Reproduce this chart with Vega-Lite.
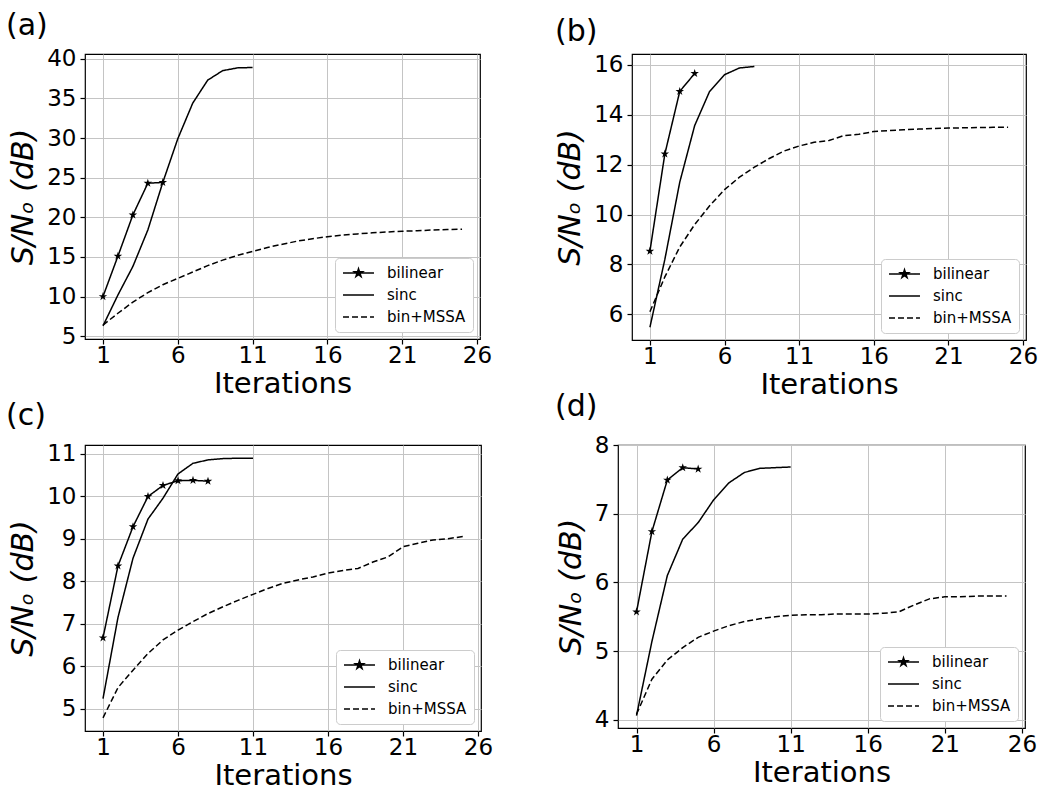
{
  "$schema": "https://vega.github.io/schema/vega-lite/v6.json",
  "background": "white",
  "padding": {"left": 5, "top": 10, "right": 5, "bottom": 0},
  "datasets": {
    "d": [
      {"panel": "a", "series": "bilinear", "x": 1, "y": 10.0},
      {"panel": "a", "series": "bilinear", "x": 2, "y": 15.1},
      {"panel": "a", "series": "bilinear", "x": 3, "y": 20.3},
      {"panel": "a", "series": "bilinear", "x": 4, "y": 24.3},
      {"panel": "a", "series": "bilinear", "x": 5, "y": 24.4},
      {"panel": "a", "series": "sinc", "x": 1, "y": 6.3},
      {"panel": "a", "series": "sinc", "x": 2, "y": 10.2},
      {"panel": "a", "series": "sinc", "x": 3, "y": 13.8},
      {"panel": "a", "series": "sinc", "x": 4, "y": 18.4},
      {"panel": "a", "series": "sinc", "x": 5, "y": 24.4},
      {"panel": "a", "series": "sinc", "x": 6, "y": 29.9},
      {"panel": "a", "series": "sinc", "x": 7, "y": 34.4},
      {"panel": "a", "series": "sinc", "x": 8, "y": 37.3},
      {"panel": "a", "series": "sinc", "x": 9, "y": 38.5},
      {"panel": "a", "series": "sinc", "x": 10, "y": 38.85},
      {"panel": "a", "series": "sinc", "x": 11, "y": 38.9},
      {"panel": "a", "series": "bin+MSSA", "x": 1, "y": 6.4},
      {"panel": "a", "series": "bin+MSSA", "x": 2, "y": 7.9},
      {"panel": "a", "series": "bin+MSSA", "x": 3, "y": 9.3},
      {"panel": "a", "series": "bin+MSSA", "x": 4, "y": 10.5},
      {"panel": "a", "series": "bin+MSSA", "x": 5, "y": 11.5},
      {"panel": "a", "series": "bin+MSSA", "x": 6, "y": 12.3},
      {"panel": "a", "series": "bin+MSSA", "x": 7, "y": 13.1},
      {"panel": "a", "series": "bin+MSSA", "x": 8, "y": 13.9},
      {"panel": "a", "series": "bin+MSSA", "x": 9, "y": 14.6},
      {"panel": "a", "series": "bin+MSSA", "x": 10, "y": 15.2},
      {"panel": "a", "series": "bin+MSSA", "x": 11, "y": 15.7},
      {"panel": "a", "series": "bin+MSSA", "x": 12, "y": 16.2},
      {"panel": "a", "series": "bin+MSSA", "x": 13, "y": 16.6},
      {"panel": "a", "series": "bin+MSSA", "x": 14, "y": 17.0},
      {"panel": "a", "series": "bin+MSSA", "x": 15, "y": 17.3},
      {"panel": "a", "series": "bin+MSSA", "x": 16, "y": 17.55},
      {"panel": "a", "series": "bin+MSSA", "x": 17, "y": 17.75},
      {"panel": "a", "series": "bin+MSSA", "x": 18, "y": 17.9},
      {"panel": "a", "series": "bin+MSSA", "x": 19, "y": 18.05},
      {"panel": "a", "series": "bin+MSSA", "x": 20, "y": 18.15},
      {"panel": "a", "series": "bin+MSSA", "x": 21, "y": 18.25},
      {"panel": "a", "series": "bin+MSSA", "x": 22, "y": 18.3},
      {"panel": "a", "series": "bin+MSSA", "x": 23, "y": 18.4},
      {"panel": "a", "series": "bin+MSSA", "x": 24, "y": 18.45},
      {"panel": "a", "series": "bin+MSSA", "x": 25, "y": 18.5},
      {"panel": "b", "series": "bilinear", "x": 1, "y": 8.53},
      {"panel": "b", "series": "bilinear", "x": 2, "y": 12.43},
      {"panel": "b", "series": "bilinear", "x": 3, "y": 14.94},
      {"panel": "b", "series": "bilinear", "x": 4, "y": 15.66},
      {"panel": "b", "series": "sinc", "x": 1, "y": 5.48},
      {"panel": "b", "series": "sinc", "x": 2, "y": 8.2},
      {"panel": "b", "series": "sinc", "x": 3, "y": 11.3},
      {"panel": "b", "series": "sinc", "x": 4, "y": 13.57},
      {"panel": "b", "series": "sinc", "x": 5, "y": 14.94},
      {"panel": "b", "series": "sinc", "x": 6, "y": 15.61},
      {"panel": "b", "series": "sinc", "x": 7, "y": 15.88},
      {"panel": "b", "series": "sinc", "x": 8, "y": 15.94},
      {"panel": "b", "series": "bin+MSSA", "x": 1, "y": 6.1},
      {"panel": "b", "series": "bin+MSSA", "x": 2, "y": 7.5},
      {"panel": "b", "series": "bin+MSSA", "x": 3, "y": 8.7},
      {"panel": "b", "series": "bin+MSSA", "x": 4, "y": 9.6},
      {"panel": "b", "series": "bin+MSSA", "x": 5, "y": 10.35},
      {"panel": "b", "series": "bin+MSSA", "x": 6, "y": 11.0},
      {"panel": "b", "series": "bin+MSSA", "x": 7, "y": 11.5},
      {"panel": "b", "series": "bin+MSSA", "x": 8, "y": 11.9},
      {"panel": "b", "series": "bin+MSSA", "x": 9, "y": 12.25},
      {"panel": "b", "series": "bin+MSSA", "x": 10, "y": 12.55},
      {"panel": "b", "series": "bin+MSSA", "x": 11, "y": 12.75},
      {"panel": "b", "series": "bin+MSSA", "x": 12, "y": 12.9},
      {"panel": "b", "series": "bin+MSSA", "x": 13, "y": 12.97},
      {"panel": "b", "series": "bin+MSSA", "x": 14, "y": 13.17},
      {"panel": "b", "series": "bin+MSSA", "x": 15, "y": 13.22},
      {"panel": "b", "series": "bin+MSSA", "x": 16, "y": 13.33},
      {"panel": "b", "series": "bin+MSSA", "x": 17, "y": 13.37},
      {"panel": "b", "series": "bin+MSSA", "x": 18, "y": 13.4},
      {"panel": "b", "series": "bin+MSSA", "x": 19, "y": 13.43},
      {"panel": "b", "series": "bin+MSSA", "x": 20, "y": 13.45},
      {"panel": "b", "series": "bin+MSSA", "x": 21, "y": 13.47},
      {"panel": "b", "series": "bin+MSSA", "x": 22, "y": 13.48},
      {"panel": "b", "series": "bin+MSSA", "x": 23, "y": 13.49},
      {"panel": "b", "series": "bin+MSSA", "x": 24, "y": 13.5},
      {"panel": "b", "series": "bin+MSSA", "x": 25, "y": 13.5},
      {"panel": "c", "series": "bilinear", "x": 1, "y": 6.67},
      {"panel": "c", "series": "bilinear", "x": 2, "y": 8.36},
      {"panel": "c", "series": "bilinear", "x": 3, "y": 9.28},
      {"panel": "c", "series": "bilinear", "x": 4, "y": 9.99},
      {"panel": "c", "series": "bilinear", "x": 5, "y": 10.25},
      {"panel": "c", "series": "bilinear", "x": 6, "y": 10.36},
      {"panel": "c", "series": "bilinear", "x": 7, "y": 10.37},
      {"panel": "c", "series": "bilinear", "x": 8, "y": 10.35},
      {"panel": "c", "series": "sinc", "x": 1, "y": 5.24},
      {"panel": "c", "series": "sinc", "x": 2, "y": 7.15},
      {"panel": "c", "series": "sinc", "x": 3, "y": 8.54},
      {"panel": "c", "series": "sinc", "x": 4, "y": 9.46},
      {"panel": "c", "series": "sinc", "x": 5, "y": 9.95},
      {"panel": "c", "series": "sinc", "x": 6, "y": 10.52},
      {"panel": "c", "series": "sinc", "x": 7, "y": 10.77},
      {"panel": "c", "series": "sinc", "x": 8, "y": 10.85},
      {"panel": "c", "series": "sinc", "x": 9, "y": 10.88},
      {"panel": "c", "series": "sinc", "x": 10, "y": 10.89},
      {"panel": "c", "series": "sinc", "x": 11, "y": 10.89},
      {"panel": "c", "series": "bin+MSSA", "x": 1, "y": 4.79},
      {"panel": "c", "series": "bin+MSSA", "x": 2, "y": 5.5},
      {"panel": "c", "series": "bin+MSSA", "x": 3, "y": 5.91},
      {"panel": "c", "series": "bin+MSSA", "x": 4, "y": 6.3},
      {"panel": "c", "series": "bin+MSSA", "x": 5, "y": 6.62},
      {"panel": "c", "series": "bin+MSSA", "x": 6, "y": 6.85},
      {"panel": "c", "series": "bin+MSSA", "x": 7, "y": 7.05},
      {"panel": "c", "series": "bin+MSSA", "x": 8, "y": 7.24},
      {"panel": "c", "series": "bin+MSSA", "x": 9, "y": 7.4},
      {"panel": "c", "series": "bin+MSSA", "x": 10, "y": 7.55},
      {"panel": "c", "series": "bin+MSSA", "x": 11, "y": 7.69},
      {"panel": "c", "series": "bin+MSSA", "x": 12, "y": 7.83},
      {"panel": "c", "series": "bin+MSSA", "x": 13, "y": 7.95},
      {"panel": "c", "series": "bin+MSSA", "x": 14, "y": 8.03},
      {"panel": "c", "series": "bin+MSSA", "x": 15, "y": 8.1},
      {"panel": "c", "series": "bin+MSSA", "x": 16, "y": 8.19},
      {"panel": "c", "series": "bin+MSSA", "x": 17, "y": 8.25},
      {"panel": "c", "series": "bin+MSSA", "x": 18, "y": 8.3},
      {"panel": "c", "series": "bin+MSSA", "x": 19, "y": 8.45},
      {"panel": "c", "series": "bin+MSSA", "x": 20, "y": 8.57},
      {"panel": "c", "series": "bin+MSSA", "x": 21, "y": 8.81},
      {"panel": "c", "series": "bin+MSSA", "x": 22, "y": 8.89},
      {"panel": "c", "series": "bin+MSSA", "x": 23, "y": 8.97},
      {"panel": "c", "series": "bin+MSSA", "x": 24, "y": 9.0},
      {"panel": "c", "series": "bin+MSSA", "x": 25, "y": 9.05},
      {"panel": "d", "series": "bilinear", "x": 1, "y": 5.57},
      {"panel": "d", "series": "bilinear", "x": 2, "y": 6.74},
      {"panel": "d", "series": "bilinear", "x": 3, "y": 7.49},
      {"panel": "d", "series": "bilinear", "x": 4, "y": 7.67},
      {"panel": "d", "series": "bilinear", "x": 5, "y": 7.65},
      {"panel": "d", "series": "sinc", "x": 1, "y": 4.06},
      {"panel": "d", "series": "sinc", "x": 2, "y": 5.14},
      {"panel": "d", "series": "sinc", "x": 3, "y": 6.1},
      {"panel": "d", "series": "sinc", "x": 4, "y": 6.63},
      {"panel": "d", "series": "sinc", "x": 5, "y": 6.87},
      {"panel": "d", "series": "sinc", "x": 6, "y": 7.2},
      {"panel": "d", "series": "sinc", "x": 7, "y": 7.45},
      {"panel": "d", "series": "sinc", "x": 8, "y": 7.6},
      {"panel": "d", "series": "sinc", "x": 9, "y": 7.66},
      {"panel": "d", "series": "sinc", "x": 10, "y": 7.67},
      {"panel": "d", "series": "sinc", "x": 11, "y": 7.68},
      {"panel": "d", "series": "bin+MSSA", "x": 1, "y": 4.08},
      {"panel": "d", "series": "bin+MSSA", "x": 2, "y": 4.59},
      {"panel": "d", "series": "bin+MSSA", "x": 3, "y": 4.87},
      {"panel": "d", "series": "bin+MSSA", "x": 4, "y": 5.05},
      {"panel": "d", "series": "bin+MSSA", "x": 5, "y": 5.2},
      {"panel": "d", "series": "bin+MSSA", "x": 6, "y": 5.29},
      {"panel": "d", "series": "bin+MSSA", "x": 7, "y": 5.37},
      {"panel": "d", "series": "bin+MSSA", "x": 8, "y": 5.43},
      {"panel": "d", "series": "bin+MSSA", "x": 9, "y": 5.47},
      {"panel": "d", "series": "bin+MSSA", "x": 10, "y": 5.5},
      {"panel": "d", "series": "bin+MSSA", "x": 11, "y": 5.52},
      {"panel": "d", "series": "bin+MSSA", "x": 12, "y": 5.53},
      {"panel": "d", "series": "bin+MSSA", "x": 13, "y": 5.53},
      {"panel": "d", "series": "bin+MSSA", "x": 14, "y": 5.54},
      {"panel": "d", "series": "bin+MSSA", "x": 15, "y": 5.54},
      {"panel": "d", "series": "bin+MSSA", "x": 16, "y": 5.54},
      {"panel": "d", "series": "bin+MSSA", "x": 17, "y": 5.55},
      {"panel": "d", "series": "bin+MSSA", "x": 18, "y": 5.57},
      {"panel": "d", "series": "bin+MSSA", "x": 19, "y": 5.67},
      {"panel": "d", "series": "bin+MSSA", "x": 20, "y": 5.76},
      {"panel": "d", "series": "bin+MSSA", "x": 21, "y": 5.79},
      {"panel": "d", "series": "bin+MSSA", "x": 22, "y": 5.79},
      {"panel": "d", "series": "bin+MSSA", "x": 23, "y": 5.8},
      {"panel": "d", "series": "bin+MSSA", "x": 24, "y": 5.8},
      {"panel": "d", "series": "bin+MSSA", "x": 25, "y": 5.8}
    ]
  },
  "config": {
    "font": "DejaVu Sans",
    "view": {"stroke": "black", "strokeWidth": 1.2},
    "axis": {
      "labelFont": "DejaVu Sans", "labelFontSize": 23, "labelColor": "black",
      "titleFont": "DejaVu Sans", "titleFontSize": 29, "titleFontWeight": "normal", "titleColor": "black",
      "tickColor": "black", "tickSize": 5, "tickWidth": 1.2, "domain": false,
      "gridColor": "#c4c4c4", "gridWidth": 1, "format": "d"
    },
    "axisY": {"titleFontStyle": "italic", "titlePadding": 8, "titleFontSize": 30, "labelPadding": 4},
    "axisX": {"titlePadding": 2, "labelPadding": 0},
    "title": {"font": "DejaVu Sans", "fontSize": 30, "fontWeight": "normal", "anchor": "start", "color": "black", "frame": "group", "offset": 7, "dx": -79},
    "legend": {
      "orient": "bottom-right", "offset": 7, "title": null,
      "fillColor": "white", "strokeColor": "#cccccc", "cornerRadius": 4, "padding": 7,
      "labelFont": "DejaVu Sans", "labelFontSize": 15, "labelColor": "black", "labelOffset": 12,
      "symbolType": "stroke", "symbolSize": 960, "symbolStrokeWidth": 1.5, "symbolStrokeColor": "black",
      "clipHeight": 16, "rowPadding": 6
    }
  },
  "resolve": {"legend": {"strokeDash": "independent"}},
  "spacing": -9,
  "vconcat": [
    {
      "bounds": "flush",
      "spacing": 152,
      "resolve": {"legend": {"strokeDash": "independent"}},
      "hconcat": [
        {
          "title": {"text": "(a)"},
          "width": 395, "height": 285,
          "data": {"name": "d"},
          "transform": [{"filter": "datum.panel === 'a'"}],
          "layer": [
            {
              "mark": {"type": "line", "color": "black", "strokeWidth": 1.5},
              "encoding": {
                "x": {"field": "x", "type": "quantitative", "scale": {"domain": [-0.2, 26.2], "nice": false}, "axis": {"values": [1, 6, 11, 16, 21, 26], "title": "Iterations"}},
                "y": {"field": "y", "type": "quantitative", "scale": {"domain": [4.65, 40.6], "nice": false, "zero": false}, "axis": {"values": [5, 10, 15, 20, 25, 30, 35, 40], "title": "S/Nₒ (dB)"}},
                "strokeDash": {"field": "series", "type": "nominal", "scale": {"domain": ["bilinear", "sinc", "bin+MSSA"], "range": [[1, 0], [1, 0], [6, 3]]},
                  "legend": {"encode": {"symbols": {"update": {"shape": {"signal": "datum.value === 'bilinear' ? 'M-1,0H1M0,-0.28L0.0629,-0.0865L0.2663,-0.0865L0.1016,0.033L0.1646,0.2265L0,0.107L-0.1646,0.2265L-0.1016,0.033L-0.2663,-0.0865L-0.0629,-0.0865Z' : 'stroke'"}, "fill": {"value": "black"}, "stroke": {"value": "black"}, "strokeWidth": {"value": 1.5}, "strokeDash": {"signal": "datum.value === 'bin+MSSA' ? [6, 3] : [1, 0]"}, "opacity": {"value": 1}}}}}}
              }
            },
            {
              "transform": [{"filter": "datum.series === 'bilinear'"}],
              "mark": {"type": "point", "shape": "M0,-1L0.2245,-0.309L0.951,-0.309L0.363,0.118L0.588,0.809L0,0.382L-0.588,0.809L-0.363,0.118L-0.951,-0.309L-0.2245,-0.309Z", "filled": true, "color": "black", "size": 80, "opacity": 1},
              "encoding": {
                "x": {"field": "x", "type": "quantitative"},
                "y": {"field": "y", "type": "quantitative"}
              }
            }
          ]
        },
        {
          "title": {"text": "(b)", "dx": -77},
          "width": 394, "height": 286,
          "data": {"name": "d"},
          "transform": [{"filter": "datum.panel === 'b'"}],
          "layer": [
            {
              "mark": {"type": "line", "color": "black", "strokeWidth": 1.5},
              "encoding": {
                "x": {"field": "x", "type": "quantitative", "scale": {"domain": [-0.2, 26.2], "nice": false}, "axis": {"values": [1, 6, 11, 16, 21, 26], "title": "Iterations"}},
                "y": {"field": "y", "type": "quantitative", "scale": {"domain": [4.97, 16.44], "nice": false, "zero": false}, "axis": {"values": [6, 8, 10, 12, 14, 16], "title": "S/Nₒ (dB)"}},
                "strokeDash": {"field": "series", "type": "nominal", "scale": {"domain": ["bilinear", "sinc", "bin+MSSA"], "range": [[1, 0], [1, 0], [6, 3]]},
                  "legend": {"encode": {"symbols": {"update": {"shape": {"signal": "datum.value === 'bilinear' ? 'M-1,0H1M0,-0.28L0.0629,-0.0865L0.2663,-0.0865L0.1016,0.033L0.1646,0.2265L0,0.107L-0.1646,0.2265L-0.1016,0.033L-0.2663,-0.0865L-0.0629,-0.0865Z' : 'stroke'"}, "fill": {"value": "black"}, "stroke": {"value": "black"}, "strokeWidth": {"value": 1.5}, "strokeDash": {"signal": "datum.value === 'bin+MSSA' ? [6, 3] : [1, 0]"}, "opacity": {"value": 1}}}}}}
              }
            },
            {
              "transform": [{"filter": "datum.series === 'bilinear'"}],
              "mark": {"type": "point", "shape": "M0,-1L0.2245,-0.309L0.951,-0.309L0.363,0.118L0.588,0.809L0,0.382L-0.588,0.809L-0.363,0.118L-0.951,-0.309L-0.2245,-0.309Z", "filled": true, "color": "black", "size": 80, "opacity": 1},
              "encoding": {
                "x": {"field": "x", "type": "quantitative"},
                "y": {"field": "y", "type": "quantitative"}
              }
            }
          ]
        }
      ]
    },
    {
      "bounds": "flush",
      "spacing": 137,
      "resolve": {"legend": {"strokeDash": "independent"}},
      "hconcat": [
        {
          "title": {"text": "(c)", "offset": 12},
          "width": 396, "height": 286,
          "data": {"name": "d"},
          "transform": [{"filter": "datum.panel === 'c'"}],
          "layer": [
            {
              "mark": {"type": "line", "color": "black", "strokeWidth": 1.5},
              "encoding": {
                "x": {"field": "x", "type": "quantitative", "scale": {"domain": [-0.2, 26.2], "nice": false}, "axis": {"values": [1, 6, 11, 16, 21, 26], "title": "Iterations"}},
                "y": {"field": "y", "type": "quantitative", "scale": {"domain": [4.48, 11.2], "nice": false, "zero": false}, "axis": {"values": [5, 6, 7, 8, 9, 10, 11], "title": "S/Nₒ (dB)"}},
                "strokeDash": {"field": "series", "type": "nominal", "scale": {"domain": ["bilinear", "sinc", "bin+MSSA"], "range": [[1, 0], [1, 0], [6, 3]]},
                  "legend": {"encode": {"symbols": {"update": {"shape": {"signal": "datum.value === 'bilinear' ? 'M-1,0H1M0,-0.28L0.0629,-0.0865L0.2663,-0.0865L0.1016,0.033L0.1646,0.2265L0,0.107L-0.1646,0.2265L-0.1016,0.033L-0.2663,-0.0865L-0.0629,-0.0865Z' : 'stroke'"}, "fill": {"value": "black"}, "stroke": {"value": "black"}, "strokeWidth": {"value": 1.5}, "strokeDash": {"signal": "datum.value === 'bin+MSSA' ? [6, 3] : [1, 0]"}, "opacity": {"value": 1}}}}}}
              }
            },
            {
              "transform": [{"filter": "datum.series === 'bilinear'"}],
              "mark": {"type": "point", "shape": "M0,-1L0.2245,-0.309L0.951,-0.309L0.363,0.118L0.588,0.809L0,0.382L-0.588,0.809L-0.363,0.118L-0.951,-0.309L-0.2245,-0.309Z", "filled": true, "color": "black", "size": 80, "opacity": 1},
              "encoding": {
                "x": {"field": "x", "type": "quantitative"},
                "y": {"field": "y", "type": "quantitative"}
              }
            }
          ]
        },
        {
          "title": {"text": "(d)", "dx": -63, "offset": 12},
          "width": 407, "height": 283,
          "data": {"name": "d"},
          "transform": [{"filter": "datum.panel === 'd'"}],
          "layer": [
            {
              "mark": {"type": "line", "color": "black", "strokeWidth": 1.5},
              "encoding": {
                "x": {"field": "x", "type": "quantitative", "scale": {"domain": [-0.2, 26.2], "nice": false}, "axis": {"values": [1, 6, 11, 16, 21, 26], "title": "Iterations"}},
                "y": {"field": "y", "type": "quantitative", "scale": {"domain": [3.88, 8.0], "nice": false, "zero": false}, "axis": {"values": [4, 5, 6, 7, 8], "title": "S/Nₒ (dB)"}},
                "strokeDash": {"field": "series", "type": "nominal", "scale": {"domain": ["bilinear", "sinc", "bin+MSSA"], "range": [[1, 0], [1, 0], [6, 3]]},
                  "legend": {"encode": {"symbols": {"update": {"shape": {"signal": "datum.value === 'bilinear' ? 'M-1,0H1M0,-0.28L0.0629,-0.0865L0.2663,-0.0865L0.1016,0.033L0.1646,0.2265L0,0.107L-0.1646,0.2265L-0.1016,0.033L-0.2663,-0.0865L-0.0629,-0.0865Z' : 'stroke'"}, "fill": {"value": "black"}, "stroke": {"value": "black"}, "strokeWidth": {"value": 1.5}, "strokeDash": {"signal": "datum.value === 'bin+MSSA' ? [6, 3] : [1, 0]"}, "opacity": {"value": 1}}}}}}
              }
            },
            {
              "transform": [{"filter": "datum.series === 'bilinear'"}],
              "mark": {"type": "point", "shape": "M0,-1L0.2245,-0.309L0.951,-0.309L0.363,0.118L0.588,0.809L0,0.382L-0.588,0.809L-0.363,0.118L-0.951,-0.309L-0.2245,-0.309Z", "filled": true, "color": "black", "size": 80, "opacity": 1},
              "encoding": {
                "x": {"field": "x", "type": "quantitative"},
                "y": {"field": "y", "type": "quantitative"}
              }
            }
          ]
        }
      ]
    }
  ]
}
